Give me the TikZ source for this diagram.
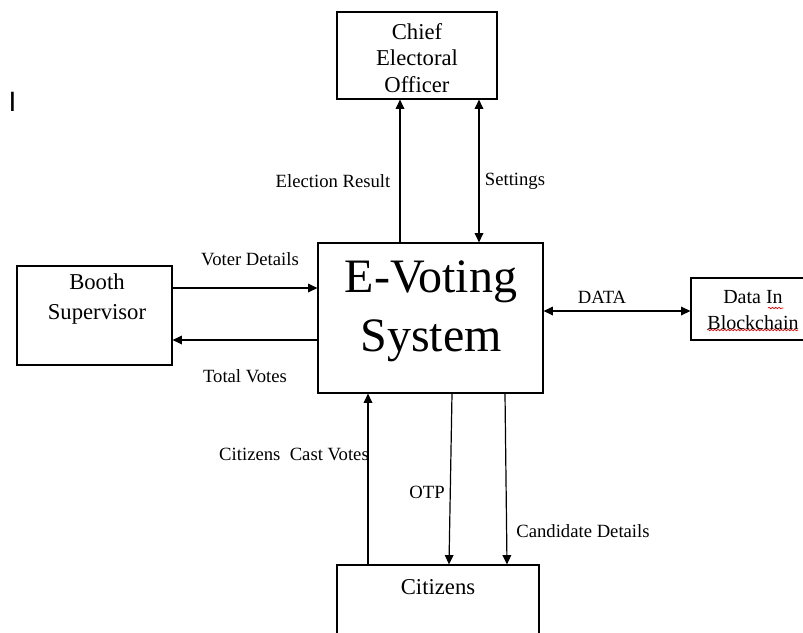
\documentclass[tikz,border=0pt]{standalone}
\usepackage{fontspec}
\setmainfont{Liberation Serif}
\setsansfont{Liberation Sans}
\usetikzlibrary{arrows.meta,decorations.pathmorphing}

\begin{document}
\begin{tikzpicture}[x=0.75pt,y=-0.75pt,
	box/.style={draw,line width=0.9pt,inner sep=0pt},
	boxtext/.style={align=center,font=\fontsize{17}{21}\selectfont},
	lbl/.style={font=\fontsize{14}{16}\selectfont},
	flow/.style={line width=0.9pt,-{Triangle[length=7pt,width=6.5pt]}},
	bothflow/.style={line width=0.9pt,{Triangle[length=7pt,width=6.5pt]}-{Triangle[length=7pt,width=6.5pt]}},
	spell/.style={red,line width=0.5pt,decorate,decoration={snake,amplitude=0.6pt,segment length=2.5pt}}]
\useasboundingbox (0,0) rectangle (803,632);

% boxes
\path
	(417,55.5) node[box,minimum width=120pt,minimum height=65.25pt] (chief) {}
	(430.5,318) node[box,minimum width=168.75pt,minimum height=112.5pt] (evoting) {}
	(94.5,315.5) node[box,minimum width=116.25pt,minimum height=74.25pt] (booth) {}
	(752,309) node[box,minimum width=91.5pt,minimum height=46.5pt] (data) {}
	(438,605) node[box,minimum width=151.5pt,minimum height=60pt] (citizens) {};

% box texts
\path
	(417,58) node[boxtext,font=\fontsize{17}{20}\selectfont] (chieftxt) {Chief\\Electoral\\Officer}
	(431,311) node[boxtext,font=\fontsize{36}{44}\selectfont] (evotingtxt) {E-Voting\\System}
	(97,299) node[boxtext,font=\fontsize{17}{22}\selectfont] (boothtxt) {Booth\\Supervisor}
	(753,310) node[boxtext,font=\fontsize{15}{19}\selectfont] (datatxt) {Data In\\Blockchain}
	(438,587) node[boxtext] (citizenstxt) {Citizens}
	(12.5,102) node[font=\sffamily\fontsize{21}{25}\selectfont] (mark) {I};
\draw[spell] (768,308) -- (783,308);
\draw[spell] (707,330) -- (798,330);

% lanes for the flows
\coordinate (er) at (400,0);
\coordinate (st) at (479,0);
\coordinate (vd) at (0,288);
\coordinate (tv) at (0,340);
\coordinate (dt) at (0,311);
\coordinate (cv) at (368,0);
\coordinate (otpa) at (452,0);
\coordinate (otpb) at (449,0);
\coordinate (cda) at (505,0);
\coordinate (cdb) at (507,0);

\draw[flow] (evoting.north -| er) -- (chief.south -| er);
\draw[bothflow] (evoting.north -| st) -- (chief.south -| st);
\draw[flow] (booth.east |- vd) -- (evoting.west |- vd);
\draw[flow] (evoting.west |- tv) -- (booth.east |- tv);
\draw[bothflow] (evoting.east |- dt) -- (data.west |- dt);
\draw[flow] (citizens.north -| cv) -- (evoting.south -| cv);
\draw[flow] (evoting.south -| otpa) -- (citizens.north -| otpb);
\draw[flow] (evoting.south -| cda) -- (citizens.north -| cdb);

% flow labels
\path
	(333,181) node[lbl] (elres) {Election Result}
	(515,181) node[lbl] (settings) {Settings}
	(250,259) node[lbl] (voterdet) {Voter Details}
	(245,376) node[lbl] (totvotes) {Total Votes}
	(602,297) node[lbl] (datalbl) {DATA}
	(294,454) node[lbl] (castvotes) {Citizens\ \ Cast Votes}
	(427,492) node[lbl] (otp) {OTP}
	(583,531) node[lbl] (canddet) {Candidate Details};
\end{tikzpicture}
\end{document}
